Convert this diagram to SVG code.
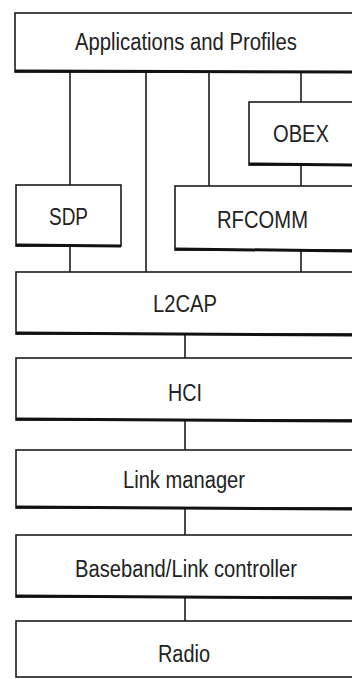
<svg xmlns="http://www.w3.org/2000/svg" width="352" height="679" viewBox="0 0 352 679">
<style>
.box{fill:#fff;stroke:#1c1c1c;stroke-width:1.6}
.sh{stroke:#111;stroke-width:3;fill:none}
.c{stroke:#1c1c1c;stroke-width:1.6;fill:none}
text{font-family:"Liberation Sans",Arial,sans-serif;font-size:23px;fill:#222}
</style>
<rect width="352" height="679" fill="#fff"/>
<g id="connectors">
<line class="c" x1="70" y1="72" x2="70" y2="185"/>
<line class="c" x1="70" y1="246" x2="70" y2="272"/>
<line class="c" x1="146" y1="72" x2="146" y2="272"/>
<line class="c" x1="209" y1="72" x2="209" y2="186"/>
<line class="c" x1="301" y1="72" x2="301" y2="102"/>
<line class="c" x1="301" y1="165" x2="301" y2="186"/>
<line class="c" x1="301" y1="250" x2="301" y2="272"/>
<line class="c" x1="185" y1="334" x2="185" y2="358"/>
<line class="c" x1="185" y1="420" x2="185" y2="450"/>
<line class="c" x1="185" y1="508" x2="185" y2="535"/>
<line class="c" x1="185" y1="597" x2="185" y2="621"/>
</g>
<g id="apps">
<rect class="box" x="15" y="13" width="345" height="59"/>
<line class="sh" x1="15" y1="71" x2="360" y2="72"/>
<text x="75" y="50" textLength="222" lengthAdjust="spacingAndGlyphs">Applications and Profiles</text>
</g>
<g id="obex">
<rect class="box" x="249" y="102" width="111" height="63"/>
<line class="sh" x1="249" y1="164" x2="360" y2="165"/>
<text x="273" y="142" textLength="56" lengthAdjust="spacingAndGlyphs">OBEX</text>
</g>
<g id="sdp">
<rect class="box" x="16" y="185" width="105" height="61"/>
<line class="sh" x1="16" y1="245" x2="121" y2="246"/>
<text x="49" y="225" textLength="39" lengthAdjust="spacingAndGlyphs">SDP</text>
</g>
<g id="rfcomm">
<rect class="box" x="175" y="186" width="185" height="64"/>
<line class="sh" x1="175" y1="249" x2="360" y2="251"/>
<text x="217" y="228" textLength="91" lengthAdjust="spacingAndGlyphs">RFCOMM</text>
</g>
<g id="l2cap">
<rect class="box" x="16" y="272" width="344" height="62"/>
<line class="sh" x1="16" y1="333" x2="360" y2="335"/>
<text x="153" y="312" textLength="64" lengthAdjust="spacingAndGlyphs">L2CAP</text>
</g>
<g id="hci">
<rect class="box" x="16" y="358" width="344" height="62"/>
<line class="sh" x1="16" y1="419" x2="360" y2="421"/>
<text x="168" y="401" textLength="34" lengthAdjust="spacingAndGlyphs">HCI</text>
</g>
<g id="linkmanager">
<rect class="box" x="16" y="450" width="344" height="58"/>
<line class="sh" x1="16" y1="507" x2="360" y2="509"/>
<text x="123" y="488" textLength="122" lengthAdjust="spacingAndGlyphs">Link manager</text>
</g>
<g id="baseband">
<rect class="box" x="16" y="535" width="344" height="62"/>
<line class="sh" x1="16" y1="596" x2="360" y2="598"/>
<text x="75" y="577" textLength="222" lengthAdjust="spacingAndGlyphs">Baseband/Link controller</text>
</g>
<g id="radio">
<rect class="box" x="16" y="621" width="344" height="56"/>
<text x="158" y="662" textLength="52" lengthAdjust="spacingAndGlyphs">Radio</text>
</g>
</svg>
